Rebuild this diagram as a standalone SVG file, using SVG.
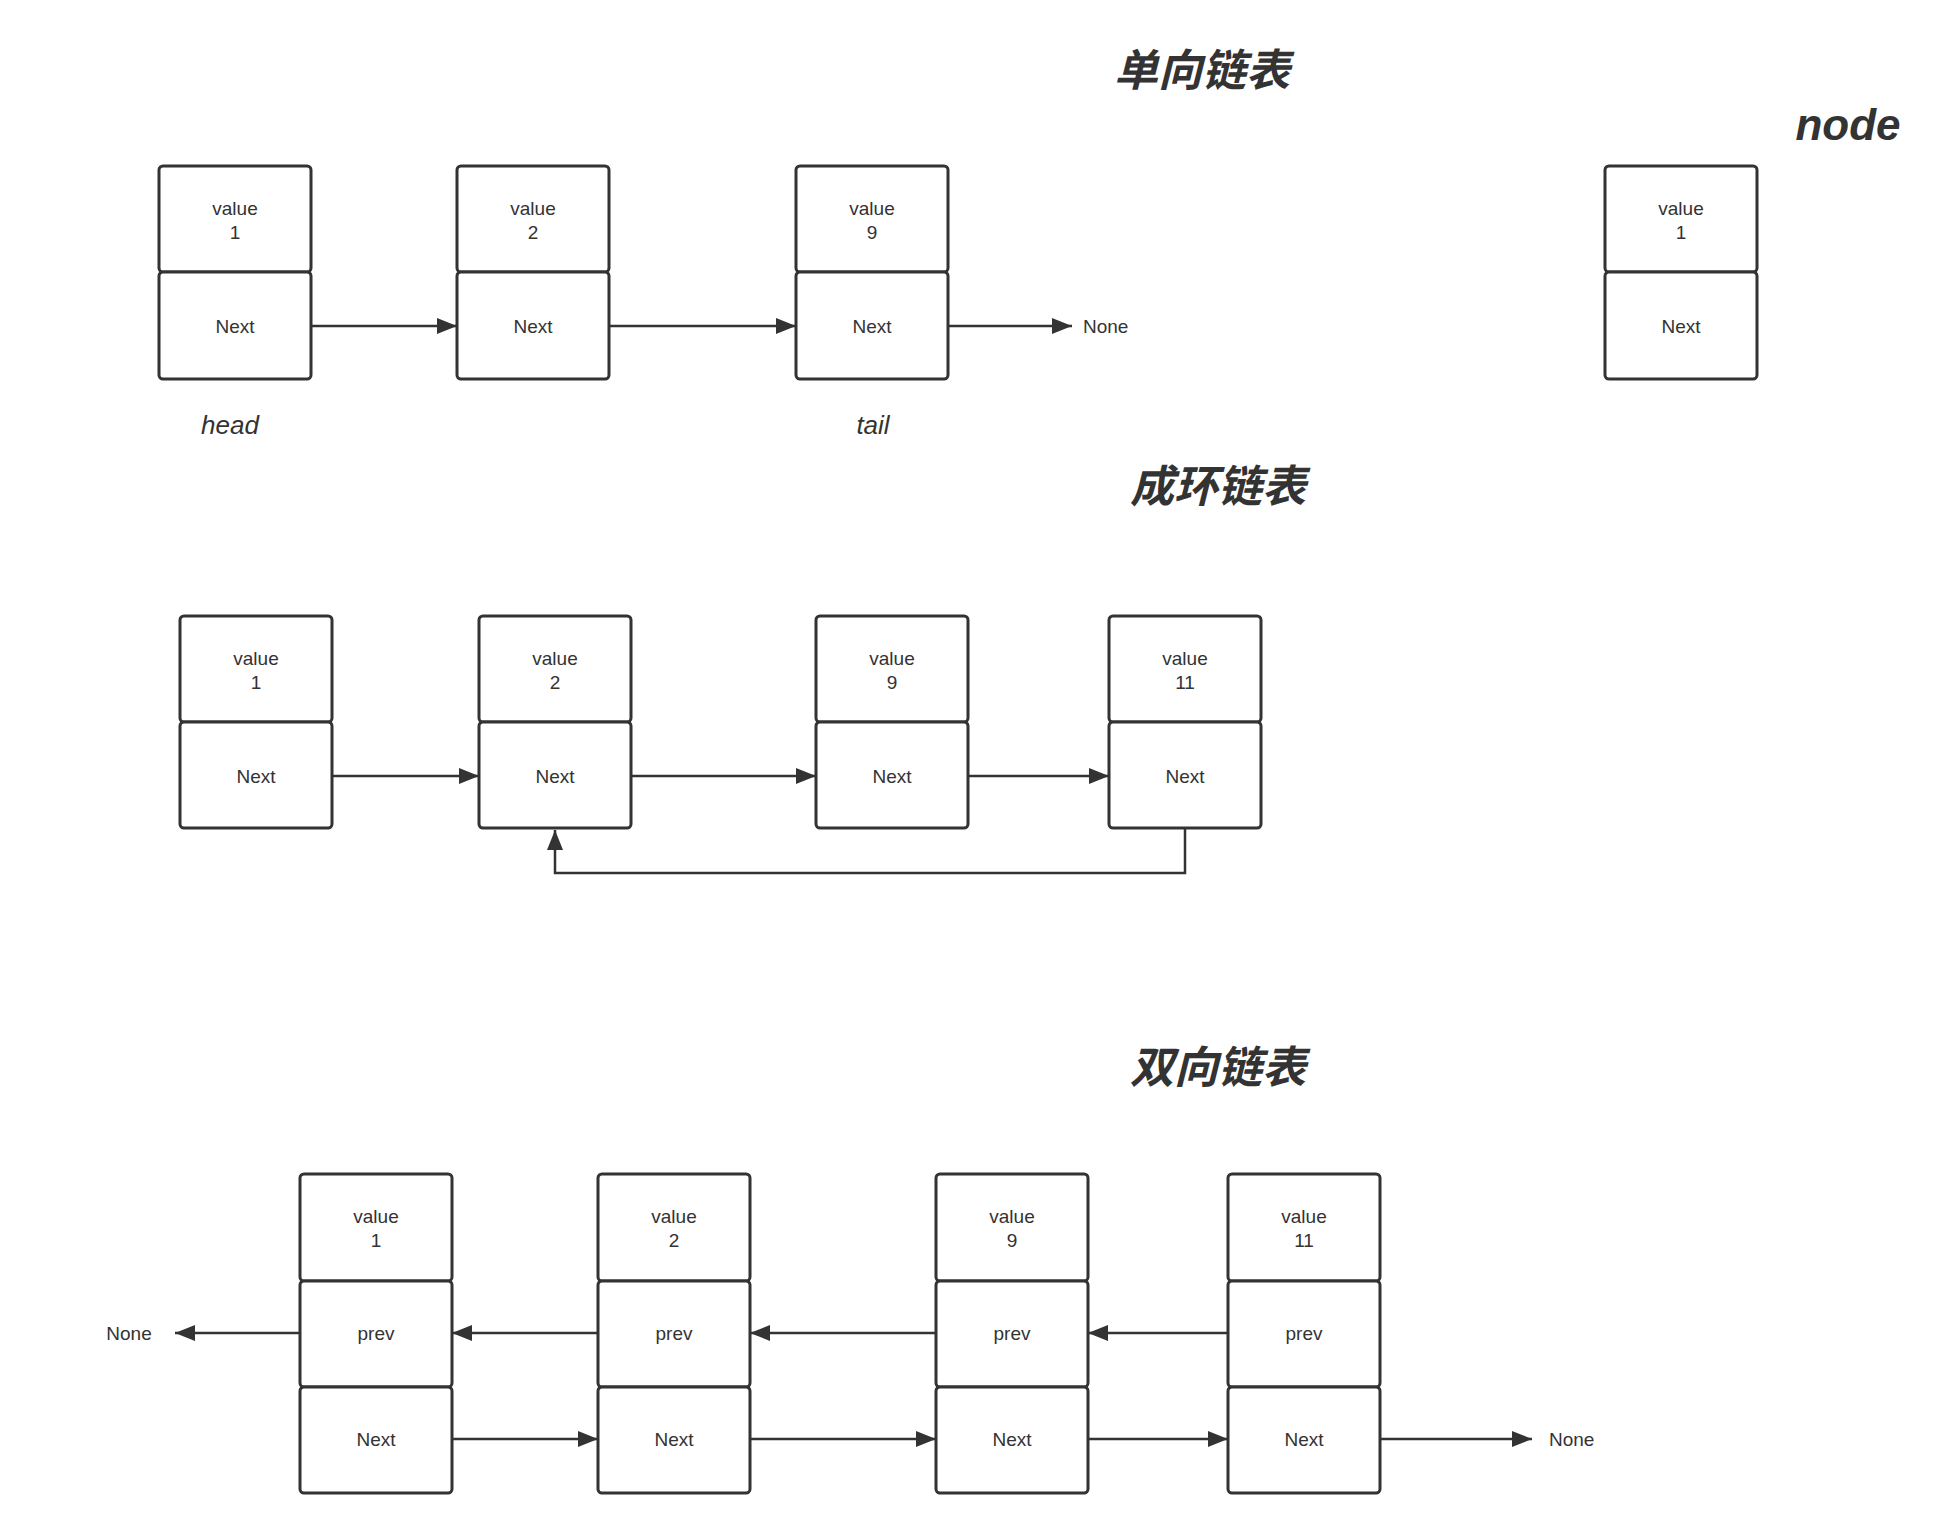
<svg xmlns="http://www.w3.org/2000/svg" width="1939" height="1515" viewBox="0 0 1939 1515">
<style>
.c{fill:#fff;stroke:#333;stroke-width:3}
.t{font-family:"Liberation Sans","Noto Sans",sans-serif;font-size:19px;fill:#333;text-anchor:middle}
.l{fill:none;stroke:#333;stroke-width:2.5}
.h{font-family:"Liberation Sans","Noto Sans CJK SC",sans-serif;font-weight:bold;font-style:italic;fill:#333;text-anchor:middle}
.i{font-family:"Liberation Sans",sans-serif;font-style:italic;font-size:26px;fill:#333;text-anchor:middle}
</style>
<defs><marker id="a" viewBox="0 0 10 10" refX="10" refY="5" markerWidth="8" markerHeight="8" markerUnits="userSpaceOnUse" orient="auto"><path d="M0,0L10,5L0,10z" fill="#333" transform="scale(1)"/></marker>
<marker id="b" viewBox="0 0 20 16" refX="20" refY="8" markerWidth="20" markerHeight="16" markerUnits="userSpaceOnUse" orient="auto"><path d="M0,0L20,8L0,16z" fill="#333"/></marker></defs>
<rect width="1939" height="1515" fill="#fff"/>
<text class="h" x="1202" y="86" font-size="44">单向链表</text>
<text class="h" x="1848" y="140" font-size="44">node</text>
<text class="h" x="1218" y="502" font-size="44">成环链表</text>
<text class="h" x="1218" y="1083" font-size="44">双向链表</text>
<text class="i" x="230" y="434">head</text>
<text class="i" x="873" y="434">tail</text>
<g id="connectors">
<line class="l" x1="311" y1="326" x2="457" y2="326" marker-end="url(#b)"/>
<line class="l" x1="609" y1="326" x2="796" y2="326" marker-end="url(#b)"/>
<line class="l" x1="948" y1="326" x2="1072" y2="326" marker-end="url(#b)"/>
<line class="l" x1="332" y1="776" x2="479" y2="776" marker-end="url(#b)"/>
<line class="l" x1="631" y1="776" x2="816" y2="776" marker-end="url(#b)"/>
<line class="l" x1="968" y1="776" x2="1109" y2="776" marker-end="url(#b)"/>
<polyline class="l" points="1185,828 1185,873 555,873 555,830" marker-end="url(#b)"/>
<line class="l" x1="300" y1="1333" x2="175" y2="1333" marker-end="url(#b)"/>
<line class="l" x1="598" y1="1333" x2="452" y2="1333" marker-end="url(#b)"/>
<line class="l" x1="936" y1="1333" x2="750" y2="1333" marker-end="url(#b)"/>
<line class="l" x1="1228" y1="1333" x2="1088" y2="1333" marker-end="url(#b)"/>
<line class="l" x1="452" y1="1439" x2="598" y2="1439" marker-end="url(#b)"/>
<line class="l" x1="750" y1="1439" x2="936" y2="1439" marker-end="url(#b)"/>
<line class="l" x1="1088" y1="1439" x2="1228" y2="1439" marker-end="url(#b)"/>
<line class="l" x1="1380" y1="1439" x2="1532" y2="1439" marker-end="url(#b)"/>
</g>
<text class="t" x="1083" y="333" text-anchor="start" style="text-anchor:start">None</text>
<text class="t" x="129" y="1340">None</text>
<text class="t" x="1549" y="1446" style="text-anchor:start">None</text>
<g id="s1"><rect class="c" x="159" y="166" width="152" height="106" rx="4"/><rect class="c" x="159" y="272" width="152" height="107" rx="4"/><text class="t" x="235" y="215">value</text><text class="t" x="235" y="239">1</text><text class="t" x="235" y="333">Next</text></g>
<g id="s2"><rect class="c" x="457" y="166" width="152" height="106" rx="4"/><rect class="c" x="457" y="272" width="152" height="107" rx="4"/><text class="t" x="533" y="215">value</text><text class="t" x="533" y="239">2</text><text class="t" x="533" y="333">Next</text></g>
<g id="s3"><rect class="c" x="796" y="166" width="152" height="106" rx="4"/><rect class="c" x="796" y="272" width="152" height="107" rx="4"/><text class="t" x="872" y="215">value</text><text class="t" x="872" y="239">9</text><text class="t" x="872" y="333">Next</text></g>
<g id="nd"><rect class="c" x="1605" y="166" width="152" height="106" rx="4"/><rect class="c" x="1605" y="272" width="152" height="107" rx="4"/><text class="t" x="1681" y="215">value</text><text class="t" x="1681" y="239">1</text><text class="t" x="1681" y="333">Next</text></g>
<g id="c1"><rect class="c" x="180" y="616" width="152" height="106" rx="4"/><rect class="c" x="180" y="722" width="152" height="106" rx="4"/><text class="t" x="256" y="665">value</text><text class="t" x="256" y="689">1</text><text class="t" x="256" y="783">Next</text></g>
<g id="c2"><rect class="c" x="479" y="616" width="152" height="106" rx="4"/><rect class="c" x="479" y="722" width="152" height="106" rx="4"/><text class="t" x="555" y="665">value</text><text class="t" x="555" y="689">2</text><text class="t" x="555" y="783">Next</text></g>
<g id="c3"><rect class="c" x="816" y="616" width="152" height="106" rx="4"/><rect class="c" x="816" y="722" width="152" height="106" rx="4"/><text class="t" x="892" y="665">value</text><text class="t" x="892" y="689">9</text><text class="t" x="892" y="783">Next</text></g>
<g id="c4"><rect class="c" x="1109" y="616" width="152" height="106" rx="4"/><rect class="c" x="1109" y="722" width="152" height="106" rx="4"/><text class="t" x="1185" y="665">value</text><text class="t" x="1185" y="689">11</text><text class="t" x="1185" y="783">Next</text></g>
<g id="d1"><rect class="c" x="300" y="1174" width="152" height="107" rx="4"/><rect class="c" x="300" y="1281" width="152" height="106" rx="4"/><rect class="c" x="300" y="1387" width="152" height="106" rx="4"/><text class="t" x="376" y="1223">value</text><text class="t" x="376" y="1247">1</text><text class="t" x="376" y="1340">prev</text><text class="t" x="376" y="1446">Next</text></g>
<g id="d2"><rect class="c" x="598" y="1174" width="152" height="107" rx="4"/><rect class="c" x="598" y="1281" width="152" height="106" rx="4"/><rect class="c" x="598" y="1387" width="152" height="106" rx="4"/><text class="t" x="674" y="1223">value</text><text class="t" x="674" y="1247">2</text><text class="t" x="674" y="1340">prev</text><text class="t" x="674" y="1446">Next</text></g>
<g id="d3"><rect class="c" x="936" y="1174" width="152" height="107" rx="4"/><rect class="c" x="936" y="1281" width="152" height="106" rx="4"/><rect class="c" x="936" y="1387" width="152" height="106" rx="4"/><text class="t" x="1012" y="1223">value</text><text class="t" x="1012" y="1247">9</text><text class="t" x="1012" y="1340">prev</text><text class="t" x="1012" y="1446">Next</text></g>
<g id="d4"><rect class="c" x="1228" y="1174" width="152" height="107" rx="4"/><rect class="c" x="1228" y="1281" width="152" height="106" rx="4"/><rect class="c" x="1228" y="1387" width="152" height="106" rx="4"/><text class="t" x="1304" y="1223">value</text><text class="t" x="1304" y="1247">11</text><text class="t" x="1304" y="1340">prev</text><text class="t" x="1304" y="1446">Next</text></g>
</svg>
